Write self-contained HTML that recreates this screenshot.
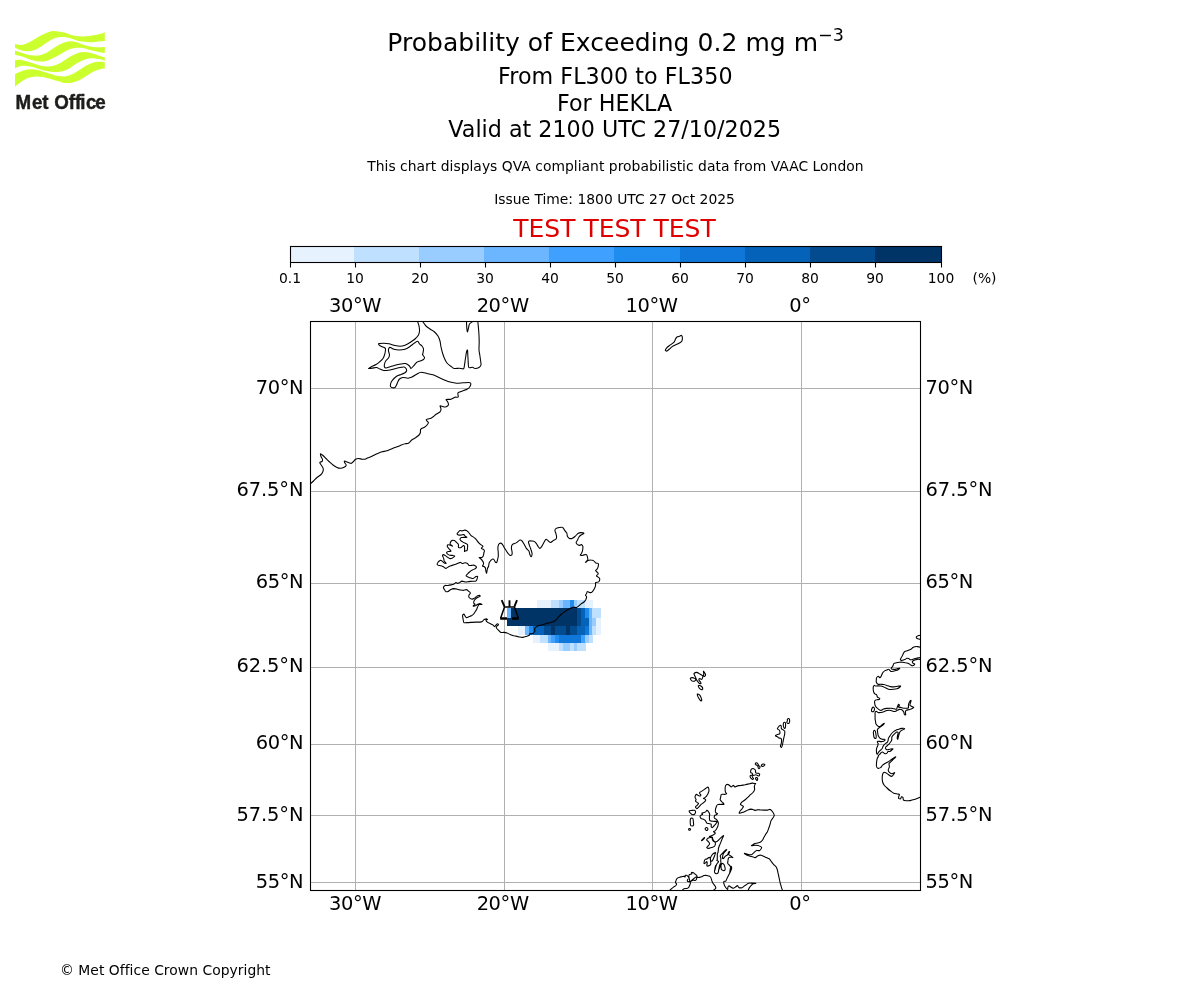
<!DOCTYPE html>
<html lang="en"><head><meta charset="utf-8"><title>Probability of Exceeding 0.2 mg m-3 - HEKLA</title>
<style>html,body{margin:0;padding:0;background:#fff}body{width:1200px;height:1000px;overflow:hidden}svg{display:block}text{font-family:"DejaVu Sans", "Liberation Sans", sans-serif;fill:#000}</style>
</head><body>
<svg width="1200" height="1000" viewBox="0 0 1200 1000">
<rect width="1200" height="1000" fill="#fff"/>
<g fill="#ccff2e">
<path d="M15.0,44.1C16.1,44.2 19.2,45.2 21.3,45.0C23.4,44.8 25.4,43.8 27.5,42.9C29.6,42.0 31.6,40.9 33.7,39.8C35.8,38.7 37.8,37.2 39.9,36.1C42.0,35.0 44.0,33.8 46.1,33.0C48.2,32.2 50.3,31.4 52.3,31.1C54.3,30.8 56.3,31.1 58.3,31.4C60.3,31.6 62.2,32.0 64.2,32.6C66.2,33.2 68.3,34.2 70.4,34.8C72.5,35.4 74.5,35.8 76.6,36.1C78.7,36.4 80.7,36.4 82.8,36.4C84.9,36.4 86.9,36.3 89.0,36.1C91.1,35.9 93.1,35.5 95.2,35.1C97.3,34.7 99.8,34.1 101.4,33.6C103.0,33.1 104.2,32.5 104.8,32.3L104.8,41.0C104.2,41.0 103.0,41.1 101.4,41.3C99.8,41.4 97.3,41.7 95.2,41.9C93.1,42.1 91.1,42.3 89.0,42.3C86.9,42.2 84.9,41.9 82.8,41.6C80.7,41.3 78.7,41.0 76.6,40.4C74.5,39.8 72.5,38.8 70.4,38.2C68.3,37.6 66.2,37.1 64.2,37.0C62.2,36.9 60.3,36.9 58.3,37.3C56.3,37.7 54.3,38.3 52.3,39.2C50.3,40.1 48.2,41.6 46.1,42.9C44.0,44.2 42.0,46.0 39.9,47.2C37.8,48.4 35.8,49.6 33.7,50.3C31.6,51.0 29.6,51.2 27.5,51.2C25.4,51.2 23.4,50.9 21.3,50.3C19.2,49.7 16.1,48.2 15.0,47.8Z"/>
<path d="M15.0,50.6C16.1,51.0 19.2,52.1 21.3,52.8C23.4,53.5 25.4,54.2 27.5,54.7C29.6,55.2 31.6,55.5 33.7,55.6C35.8,55.7 37.8,55.7 39.9,55.3C42.0,54.9 44.0,54.1 46.1,53.1C48.2,52.1 50.3,50.4 52.3,49.1C54.3,47.8 56.3,46.4 58.3,45.3C60.3,44.2 62.2,43.3 64.2,42.6C66.2,41.9 68.3,41.3 70.4,41.3C72.5,41.2 74.5,41.8 76.6,42.3C78.7,42.8 80.7,43.7 82.8,44.4C84.9,45.1 86.9,45.8 89.0,46.3C91.1,46.8 93.1,47.0 95.2,47.2C97.3,47.4 99.8,47.3 101.4,47.3C103.0,47.3 104.2,47.1 104.8,47.1L104.8,52.8C104.2,52.8 103.0,52.8 101.4,52.5C99.8,52.2 97.3,51.7 95.2,51.2C93.1,50.7 91.1,50.2 89.0,49.7C86.9,49.2 84.9,48.4 82.8,48.1C80.7,47.8 78.7,47.6 76.6,47.8C74.5,48.0 72.5,48.4 70.4,49.1C68.3,49.8 66.2,50.9 64.2,51.9C62.2,52.9 60.3,54.3 58.3,55.4C56.3,56.5 54.3,57.5 52.3,58.4C50.3,59.3 48.2,60.4 46.1,60.9C44.0,61.4 42.0,61.6 39.9,61.5C37.8,61.4 35.8,61.0 33.7,60.5C31.6,60.0 29.6,59.1 27.5,58.4C25.4,57.7 23.4,56.8 21.3,56.2C19.2,55.6 16.1,55.0 15.0,54.7Z"/>
<path d="M15.0,60.2C16.1,60.2 19.2,59.7 21.3,59.9C23.4,60.1 25.4,60.9 27.5,61.5C29.6,62.1 31.6,62.9 33.7,63.6C35.8,64.3 37.8,65.0 39.9,65.5C42.0,66.0 44.0,66.3 46.1,66.4C48.2,66.5 50.3,66.5 52.3,66.1C54.3,65.7 56.3,65.0 58.3,64.1C60.3,63.2 62.2,61.8 64.2,60.5C66.2,59.2 68.3,57.7 70.4,56.5C72.5,55.3 74.5,54.2 76.6,53.4C78.7,52.6 80.7,52.0 82.8,51.9C84.9,51.8 86.9,52.1 89.0,52.5C91.1,52.9 93.1,53.6 95.2,54.3C97.3,55.0 99.8,56.0 101.4,56.5C103.0,57.0 104.2,57.2 104.8,57.4L104.8,60.9C104.2,60.7 103.0,60.0 101.4,59.6C99.8,59.2 97.3,58.6 95.2,58.4C93.1,58.2 91.1,58.1 89.0,58.4C86.9,58.7 84.9,59.3 82.8,60.2C80.7,61.1 78.7,62.4 76.6,63.6C74.5,64.8 72.5,66.5 70.4,67.7C68.3,68.9 66.0,70.1 64.2,70.8C62.4,71.5 61.0,71.6 59.5,71.8C58.0,72.0 57.1,72.1 55.4,72.0C53.7,71.9 51.3,71.7 49.2,71.4C47.1,71.1 45.1,70.7 43.0,70.2C40.9,69.7 38.9,68.9 36.8,68.3C34.7,67.7 32.7,66.8 30.6,66.4C28.5,66.0 26.5,65.8 24.4,65.8C22.3,65.8 19.8,66.2 18.2,66.7C16.6,67.2 15.5,68.3 15.0,68.6Z"/>
<path d="M15.0,74.5C15.5,74.2 16.6,73.3 18.2,72.6C19.8,71.9 22.3,70.8 24.4,70.2C26.5,69.6 28.5,69.3 30.6,69.2C32.7,69.1 34.7,69.4 36.8,69.8C38.9,70.2 40.9,70.8 43.0,71.4C45.1,72.0 47.1,72.9 49.2,73.6C51.3,74.3 53.7,75.0 55.4,75.4C57.1,75.8 58.0,75.8 59.5,76.0C61.0,76.2 62.4,76.6 64.2,76.4C66.0,76.2 68.3,75.9 70.4,75.1C72.5,74.3 74.5,72.9 76.6,71.7C78.7,70.5 80.7,68.9 82.8,67.7C84.9,66.5 86.9,65.2 89.0,64.3C91.1,63.4 93.1,62.5 95.2,62.1C97.3,61.7 99.8,61.8 101.4,61.8C103.0,61.8 104.2,62.3 104.8,62.4L104.8,68.6C104.2,68.6 103.0,68.5 101.4,68.9C99.8,69.3 97.3,69.9 95.2,70.8C93.1,71.7 91.1,73.0 89.0,74.2C86.9,75.4 84.9,77.0 82.8,78.2C80.7,79.4 78.7,80.5 76.6,81.3C74.5,82.1 72.5,82.6 70.4,82.9C68.3,83.2 66.0,83.1 64.2,82.9C62.4,82.7 61.0,81.9 59.5,81.5C58.0,81.1 57.1,80.9 55.4,80.4C53.7,79.9 51.3,79.1 49.2,78.5C47.1,77.9 45.1,77.3 43.0,77.0C40.9,76.7 38.9,76.4 36.8,76.4C34.7,76.5 32.7,76.7 30.6,77.3C28.5,77.9 26.5,78.7 24.4,79.8C22.3,80.9 19.8,82.9 18.2,84.1C16.6,85.3 15.5,86.4 15.0,86.9Z"/>
</g>
<text transform="scale(0.9372,1)" x="16.49 34.14 45.11 51.75 57.92 73.46 80.12 85.67 91.65 101.54" y="108.8" font-size="20" font-weight="bold" style="font-family:'Liberation Sans',sans-serif;fill:#1d1d1b;stroke:#1d1d1b;stroke-width:0.45px">Met Office</text>
<g text-anchor="middle">
<text x="615.6" y="51" font-size="25" letter-spacing="0.04">Probability of Exceeding 0.2 mg m<tspan font-size="17.5" dy="-10.3">−3</tspan></text>
<text x="615.3" y="84" letter-spacing="0.05" font-size="22.22">From FL300 to FL350</text>
<text x="614.6" y="110.5" font-size="22.22">For HEKLA</text>
<text x="614.7" y="137" font-size="22.22">Valid at 2100 UTC 27/10/2025</text>
<text x="615.4" y="171" font-size="13.89" letter-spacing="0.022">This chart displays QVA compliant probabilistic data from VAAC London</text>
<text x="614.5" y="204" font-size="13.89">Issue Time: 1800 UTC 27 Oct 2025</text>
<text x="614.5" y="237" font-size="25" style="fill:#e00000">TEST TEST TEST</text>
</g>
<g shape-rendering="crispEdges">
<rect x="290" y="246.5" width="64" height="16.0" fill="#e6f3ff"/>
<rect x="354" y="246.5" width="65" height="16.0" fill="#bfe0ff"/>
<rect x="419" y="246.5" width="65" height="16.0" fill="#99ccff"/>
<rect x="484" y="246.5" width="65" height="16.0" fill="#6cb6ff"/>
<rect x="549" y="246.5" width="65" height="16.0" fill="#3fa0ff"/>
<rect x="614" y="246.5" width="66" height="16.0" fill="#1f8cf0"/>
<rect x="680" y="246.5" width="65" height="16.0" fill="#0f77d9"/>
<rect x="745" y="246.5" width="65" height="16.0" fill="#0462b8"/>
<rect x="810" y="246.5" width="65" height="16.0" fill="#034b8f"/>
<rect x="875" y="246.5" width="67" height="16.0" fill="#003366"/>
</g>
<rect x="290.5" y="246.5" width="651.0" height="16.0" fill="none" stroke="#000" stroke-width="1.1"/>
<g stroke="#000" stroke-width="1.1">
<line x1="290.50" y1="262.5" x2="290.50" y2="267.5"/>
<line x1="355.50" y1="262.5" x2="355.50" y2="267.5"/>
<line x1="420.50" y1="262.5" x2="420.50" y2="267.5"/>
<line x1="485.50" y1="262.5" x2="485.50" y2="267.5"/>
<line x1="550.50" y1="262.5" x2="550.50" y2="267.5"/>
<line x1="615.50" y1="262.5" x2="615.50" y2="267.5"/>
<line x1="680.50" y1="262.5" x2="680.50" y2="267.5"/>
<line x1="745.50" y1="262.5" x2="745.50" y2="267.5"/>
<line x1="810.50" y1="262.5" x2="810.50" y2="267.5"/>
<line x1="875.50" y1="262.5" x2="875.50" y2="267.5"/>
<line x1="941.50" y1="262.5" x2="941.50" y2="267.5"/>
</g>
<g text-anchor="middle" font-size="13.89">
<text x="290.00" y="283">0.1</text>
<text x="355.00" y="283">10</text>
<text x="420.00" y="283">20</text>
<text x="485.00" y="283">30</text>
<text x="550.00" y="283">40</text>
<text x="615.00" y="283">50</text>
<text x="680.00" y="283">60</text>
<text x="745.00" y="283">70</text>
<text x="810.00" y="283">80</text>
<text x="875.00" y="283">90</text>
<text x="941.00" y="283">100</text>
<text x="984.5" y="283">(%)</text>
</g>
<defs><clipPath id="mapclip"><rect x="310.5" y="321.5" width="610.0" height="569.0"/></clipPath></defs>
<g clip-path="url(#mapclip)">
<g shape-rendering="crispEdges">
<rect x="537" y="600" width="14" height="8" fill="#e6f3ff"/>
<rect x="551" y="600" width="8" height="8" fill="#bfe0ff"/>
<rect x="559" y="600" width="4" height="8" fill="#99ccff"/>
<rect x="563" y="600" width="7" height="8" fill="#6cb6ff"/>
<rect x="570" y="600" width="4" height="8" fill="#1f8cf0"/>
<rect x="574" y="600" width="3" height="8" fill="#99ccff"/>
<rect x="577" y="600" width="8" height="8" fill="#bfe0ff"/>
<rect x="585" y="600" width="8" height="8" fill="#e6f3ff"/>
<rect x="507" y="608" width="4" height="10" fill="#6cb6ff"/>
<rect x="511" y="608" width="66" height="10" fill="#003366"/>
<rect x="577" y="608" width="4" height="10" fill="#034b8f"/>
<rect x="581" y="608" width="4" height="10" fill="#0462b8"/>
<rect x="585" y="608" width="4" height="10" fill="#1f8cf0"/>
<rect x="589" y="608" width="3" height="10" fill="#6cb6ff"/>
<rect x="592" y="608" width="9" height="10" fill="#bfe0ff"/>
<rect x="507" y="618" width="70" height="8" fill="#003366"/>
<rect x="577" y="618" width="4" height="8" fill="#034b8f"/>
<rect x="581" y="618" width="8" height="8" fill="#0462b8"/>
<rect x="589" y="618" width="3" height="8" fill="#6cb6ff"/>
<rect x="592" y="618" width="4" height="8" fill="#99ccff"/>
<rect x="596" y="618" width="5" height="8" fill="#e6f3ff"/>
<rect x="518" y="626" width="7" height="9" fill="#e6f3ff"/>
<rect x="525" y="626" width="4" height="9" fill="#6cb6ff"/>
<rect x="529" y="626" width="4" height="9" fill="#1f8cf0"/>
<rect x="533" y="626" width="11" height="9" fill="#0462b8"/>
<rect x="544" y="626" width="7" height="9" fill="#034b8f"/>
<rect x="551" y="626" width="4" height="9" fill="#003366"/>
<rect x="555" y="626" width="11" height="9" fill="#034b8f"/>
<rect x="566" y="626" width="4" height="9" fill="#003366"/>
<rect x="570" y="626" width="7" height="9" fill="#034b8f"/>
<rect x="577" y="626" width="8" height="9" fill="#0462b8"/>
<rect x="585" y="626" width="4" height="9" fill="#0f77d9"/>
<rect x="589" y="626" width="3" height="9" fill="#6cb6ff"/>
<rect x="592" y="626" width="4" height="9" fill="#bfe0ff"/>
<rect x="596" y="626" width="5" height="9" fill="#e6f3ff"/>
<rect x="533" y="635" width="7" height="8" fill="#e6f3ff"/>
<rect x="540" y="635" width="8" height="8" fill="#bfe0ff"/>
<rect x="548" y="635" width="3" height="8" fill="#6cb6ff"/>
<rect x="551" y="635" width="4" height="8" fill="#3fa0ff"/>
<rect x="555" y="635" width="4" height="8" fill="#1f8cf0"/>
<rect x="559" y="635" width="22" height="8" fill="#0f77d9"/>
<rect x="581" y="635" width="4" height="8" fill="#3fa0ff"/>
<rect x="585" y="635" width="4" height="8" fill="#99ccff"/>
<rect x="589" y="635" width="4" height="8" fill="#bfe0ff"/>
<rect x="548" y="643" width="11" height="8" fill="#e6f3ff"/>
<rect x="559" y="643" width="4" height="8" fill="#bfe0ff"/>
<rect x="563" y="643" width="7" height="8" fill="#99ccff"/>
<rect x="570" y="643" width="4" height="8" fill="#bfe0ff"/>
<rect x="574" y="643" width="3" height="8" fill="#99ccff"/>
<rect x="577" y="643" width="9" height="8" fill="#bfe0ff"/>
</g>
<g stroke="#b0b0b0" stroke-width="1.1" shape-rendering="crispEdges">
<line x1="355.5" y1="321.5" x2="355.5" y2="890.5"/>
<line x1="504.5" y1="321.5" x2="504.5" y2="890.5"/>
<line x1="652.5" y1="321.5" x2="652.5" y2="890.5"/>
<line x1="801.5" y1="321.5" x2="801.5" y2="890.5"/>
<line x1="310.5" y1="388.5" x2="920.5" y2="388.5"/>
<line x1="310.5" y1="491.5" x2="920.5" y2="491.5"/>
<line x1="310.5" y1="583.5" x2="920.5" y2="583.5"/>
<line x1="310.5" y1="667.5" x2="920.5" y2="667.5"/>
<line x1="310.5" y1="744.5" x2="920.5" y2="744.5"/>
<line x1="310.5" y1="815.5" x2="920.5" y2="815.5"/>
<line x1="310.5" y1="882.5" x2="920.5" y2="882.5"/>
</g>
<path fill="none" stroke="#000" stroke-width="1.08" stroke-linejoin="round" stroke-linecap="round" d="M417.5,321.2C417.7,321.9 418.7,324.6 419.0,326.0C419.3,327.4 419.6,329.7 419.5,331.0C419.4,332.3 419.1,333.9 418.5,335.0C417.9,336.1 416.2,337.9 415.0,339.0C413.8,340.1 411.4,341.6 410.0,342.5C408.6,343.4 406.4,344.7 405.0,345.2C403.6,345.7 401.4,346.2 400.0,346.2C398.6,346.2 396.5,345.8 395.0,345.5C393.5,345.2 390.5,344.1 389.0,343.8C387.5,343.5 385.4,343.2 384.0,343.2C382.6,343.2 379.7,343.3 379.0,343.5C378.3,343.7 378.6,344.4 379.0,344.8C379.4,345.2 380.7,346.1 381.5,346.5C382.3,346.9 384.4,347.5 385.0,348.0C385.6,348.5 385.6,349.0 385.5,350.0C385.4,351.0 384.9,353.8 384.5,355.0C384.1,356.2 383.6,357.6 383.0,358.5C382.4,359.4 381.0,360.7 380.0,361.5C379.0,362.3 377.3,363.7 376.0,364.5C374.7,365.3 372.1,366.4 371.0,367.0C369.9,367.6 368.4,368.3 368.5,368.5C368.6,368.7 370.9,368.3 372.0,368.2C373.1,368.1 375.4,367.4 376.5,367.5C377.6,367.6 378.9,368.6 380.0,369.0C381.1,369.4 382.6,370.4 384.0,370.5C385.4,370.6 388.5,370.2 390.0,370.0C391.5,369.8 393.6,369.2 395.0,368.8C396.4,368.4 398.7,367.8 400.0,367.5C401.3,367.2 403.2,366.9 404.0,367.0C404.8,367.1 405.6,367.9 406.0,368.5C406.4,369.1 406.7,370.4 406.5,371.0C406.3,371.6 405.3,372.5 404.5,373.0C403.7,373.5 402.1,374.1 401.0,374.5C399.9,374.9 398.0,375.4 397.0,376.0C396.0,376.6 394.8,377.7 394.0,378.5C393.2,379.3 392.0,380.7 391.5,381.5C391.0,382.3 390.6,383.8 390.5,384.5C390.4,385.2 390.2,386.0 390.5,386.5C390.8,387.0 391.9,387.7 392.5,387.8C393.1,387.9 394.4,387.9 395.0,387.5C395.6,387.1 396.1,385.8 396.5,385.0C396.9,384.2 397.6,382.3 398.0,381.5C398.4,380.7 398.8,379.6 399.5,379.0C400.2,378.4 401.8,377.6 403.0,377.5C404.2,377.4 406.7,378.3 408.0,378.2C409.3,378.1 410.7,377.6 412.0,377.0C413.3,376.4 415.7,374.7 417.0,374.0C418.3,373.3 419.6,372.3 421.0,372.2C422.4,372.1 425.3,373.1 427.0,373.5C428.7,373.9 431.3,374.2 433.0,374.8C434.7,375.4 437.3,376.7 439.0,377.5C440.7,378.3 443.5,379.6 445.0,380.2C446.5,380.8 448.4,381.6 450.0,382.0C451.6,382.4 454.7,383.1 456.5,383.2C458.3,383.3 461.2,382.9 463.0,382.8C464.8,382.7 467.9,382.4 469.0,382.5C470.1,382.6 470.7,382.9 470.8,383.5C470.9,384.1 470.5,385.7 470.0,386.5C469.5,387.3 468.6,388.4 467.5,389.0C466.4,389.6 463.8,390.5 462.5,391.0C461.2,391.5 458.6,392.0 458.0,392.8C457.4,393.6 458.7,396.4 458.2,397.0C457.8,397.6 456.0,396.9 455.0,397.2C454.0,397.6 452.2,398.9 451.0,399.2C449.8,399.6 446.7,399.2 446.2,399.5C445.8,399.8 447.2,400.8 447.5,401.5C447.8,402.2 448.5,403.6 448.5,404.2C448.5,404.9 448.0,405.6 447.5,406.0C447.0,406.4 445.8,407.0 445.0,407.0C444.2,407.0 442.7,406.4 442.0,406.2C441.3,406.1 440.2,405.5 440.0,405.8C439.8,406.0 440.6,407.4 440.8,408.0C440.9,408.6 441.0,409.4 440.9,410.0C440.8,410.6 440.4,411.4 439.8,412.0C439.1,412.6 437.4,413.4 436.5,414.0C435.6,414.6 434.3,415.9 433.5,416.5C432.7,417.1 431.8,417.9 431.0,418.2C430.2,418.6 428.7,418.8 428.0,419.0C427.3,419.2 426.4,419.4 426.2,419.8C426.1,420.1 426.9,420.8 427.2,421.2C427.6,421.7 428.4,422.2 428.4,422.8C428.4,423.3 427.5,424.4 427.0,425.0C426.5,425.6 425.3,426.8 424.5,427.2C423.7,427.7 422.1,428.1 421.5,428.5C420.9,428.9 420.7,429.2 420.5,429.8C420.3,430.3 420.6,431.8 420.4,432.5C420.2,433.2 419.7,434.3 419.0,435.0C418.3,435.7 416.5,437.1 415.5,437.8C414.5,438.4 413.0,439.0 412.0,439.8C411.0,440.5 409.5,442.7 408.5,443.2C407.5,443.8 405.9,443.5 405.0,443.8C404.1,444.0 403.0,444.4 402.0,444.8C401.0,445.1 399.3,446.0 398.0,446.5C396.7,447.0 394.5,447.6 393.0,448.2C391.5,448.8 388.5,450.3 387.0,450.8C385.5,451.3 383.4,451.4 382.0,451.8C380.6,452.2 378.4,453.2 377.0,453.8C375.6,454.4 373.3,455.6 372.0,456.2C370.7,456.8 369.0,457.4 368.0,457.8C367.0,458.2 365.8,459.0 365.0,459.2C364.2,459.4 362.9,459.3 362.0,459.2C361.1,459.1 359.4,458.5 358.5,458.5C357.6,458.5 356.2,458.8 355.5,459.2C354.8,459.6 354.1,460.9 353.5,461.5C352.9,462.1 352.1,463.1 351.5,463.3C350.9,463.5 350.0,463.1 349.0,462.8C348.0,462.5 345.1,461.0 344.5,461.0C343.9,461.0 344.6,462.2 344.8,462.8C345.0,463.4 346.2,464.4 346.2,465.0C346.2,465.6 345.7,466.3 345.0,466.8C344.3,467.3 342.1,468.2 341.0,468.3C339.9,468.4 338.1,468.0 337.0,467.5C335.9,467.0 334.1,465.8 333.0,465.0C331.9,464.2 330.0,462.4 329.0,461.5C328.0,460.6 326.8,459.3 326.0,458.5C325.2,457.7 323.8,456.2 323.0,455.5C322.2,454.8 320.8,453.6 320.5,453.7C320.2,453.8 320.7,455.7 321.0,456.5C321.3,457.3 322.4,458.8 322.5,459.5C322.6,460.2 322.4,461.1 322.0,461.5C321.6,461.9 319.9,461.9 319.8,462.5C319.7,463.1 321.0,464.6 321.5,465.5C322.0,466.4 323.2,468.0 323.3,469.0C323.4,470.0 322.9,471.7 322.5,472.5C322.1,473.3 321.3,474.3 320.5,475.0C319.7,475.7 318.0,476.7 317.0,477.5C316.0,478.3 314.5,480.1 313.5,481.0C312.5,481.9 310.5,483.6 310.0,484.0M417.7,341.2C418.4,341.3 418.9,343.3 419.5,344.0C420.1,344.7 421.4,345.3 422.0,346.0C422.6,346.7 423.4,348.0 423.5,349.0C423.6,350.0 423.1,352.2 423.0,353.0C422.9,353.8 422.3,353.9 422.5,354.5C422.7,355.1 424.4,356.8 424.5,357.5C424.6,358.2 424.1,359.0 423.5,359.5C422.9,360.0 421.0,360.6 420.0,361.0C419.0,361.4 417.3,361.9 416.5,362.5C415.7,363.1 414.8,364.7 414.0,365.5C413.2,366.3 411.6,368.4 411.0,368.5C410.4,368.6 410.3,366.7 409.5,366.0C408.7,365.3 406.7,363.8 405.5,363.5C404.3,363.2 402.5,363.8 401.0,364.0C399.5,364.2 396.5,364.8 395.0,365.2C393.5,365.6 391.3,366.4 390.0,366.8C388.7,367.2 386.8,368.0 386.0,368.0C385.2,368.0 384.7,367.6 384.5,367.0C384.3,366.4 384.3,364.9 384.5,364.0C384.7,363.1 385.4,361.3 386.0,360.5C386.6,359.7 388.0,358.8 388.5,358.0C389.0,357.2 389.5,356.0 389.5,355.0C389.5,354.0 388.6,352.0 388.5,351.0C388.4,350.0 388.7,348.5 389.0,348.0C389.3,347.5 389.8,347.3 390.5,347.5C391.2,347.7 392.8,348.8 394.0,349.2C395.2,349.6 397.5,350.0 399.0,350.0C400.5,350.0 403.5,349.7 405.0,349.2C406.5,348.7 408.7,347.4 410.0,346.5C411.3,345.6 413.4,343.7 414.5,343.0C415.6,342.3 417.0,341.1 417.7,341.2ZM422.5,321.2C423.0,321.9 424.9,324.9 426.0,326.0C427.1,327.1 428.9,328.2 430.0,329.0C431.1,329.8 432.9,330.5 434.0,331.5C435.1,332.5 437.2,334.7 438.0,336.0C438.8,337.3 439.6,339.5 440.0,341.0C440.4,342.5 440.6,345.3 441.0,347.0C441.4,348.7 442.0,351.4 442.5,353.0C443.0,354.6 443.9,357.1 444.5,358.5C445.1,359.9 446.2,361.9 447.0,363.0C447.8,364.1 449.5,365.2 450.5,366.0C451.5,366.8 452.8,368.2 454.0,368.5C455.2,368.8 457.7,368.2 459.0,368.2C460.3,368.2 462.7,369.2 463.5,368.8C464.3,368.4 464.2,366.5 464.5,365.0C464.8,363.5 465.2,359.8 465.5,358.0C465.8,356.2 466.2,353.1 466.5,352.0C466.8,350.9 467.3,349.6 467.5,350.0C467.7,350.4 467.7,353.3 467.8,355.0C467.9,356.7 468.1,360.2 468.2,362.0C468.3,363.8 468.2,366.8 468.8,367.5C469.4,368.2 471.6,367.1 472.5,367.2C473.4,367.3 474.1,368.5 475.0,368.5C475.9,368.5 478.2,368.0 479.0,367.5C479.8,367.0 480.8,366.1 481.0,365.0C481.2,363.9 480.7,361.4 480.5,360.0C480.3,358.6 480.0,356.4 479.8,355.0C479.6,353.6 479.1,351.8 479.0,350.0C478.9,348.2 479.2,344.5 479.2,342.0C479.2,339.5 479.0,334.9 478.8,332.0C478.6,329.1 477.9,322.7 477.8,321.2M466.5,321.2C466.5,322.2 466.7,326.5 466.8,328.0C466.9,329.5 467.3,332.0 467.5,332.0C467.7,332.0 468.2,329.1 468.5,328.0C468.8,326.9 468.9,324.9 469.5,324.0C470.1,323.1 472.1,321.9 472.5,321.5M681.5,335.4C681.9,335.6 682.4,337.4 682.4,338.2C682.4,339.0 682.2,340.5 681.8,341.2C681.4,341.9 680.2,342.5 679.4,343.0C678.6,343.5 676.8,344.3 675.8,344.8C674.8,345.3 673.1,346.0 672.2,346.6C671.3,347.2 670.0,348.7 669.2,349.3C668.4,349.9 667.3,351.0 666.8,351.1C666.3,351.2 665.3,350.6 665.3,350.2C665.3,349.8 666.0,348.7 666.5,348.1C667.0,347.5 668.4,346.3 669.2,345.7C670.0,345.1 671.5,344.1 672.2,343.6C672.9,343.1 673.8,342.4 674.3,341.8C674.8,341.2 675.1,339.8 675.5,339.1C675.9,338.4 676.5,337.4 677.0,337.0C677.5,336.6 678.8,336.5 679.4,336.3C680.0,336.0 681.1,335.1 681.5,335.4ZM519.9,540.1C520.6,539.8 521.2,540.1 521.8,540.6C522.3,541.2 523.4,543.0 524.0,544.0C524.6,545.0 525.6,547.1 526.2,548.1C526.9,549.1 528.4,550.2 528.9,551.1C529.4,552.1 529.7,554.1 530.0,554.9C530.3,555.7 530.8,556.9 531.1,556.8C531.4,556.6 532.1,554.7 532.1,553.8C532.1,552.8 531.5,551.1 531.1,550.0C530.8,548.9 530.0,546.9 529.6,545.9C529.3,544.8 528.6,543.2 528.5,542.5C528.4,541.8 528.8,541.2 529.2,541.0C529.7,540.8 531.1,540.9 531.9,541.0C532.6,541.1 533.9,541.2 534.5,541.6C535.1,542.0 535.9,542.9 536.4,543.6C536.9,544.3 537.8,546.0 538.2,546.6C538.7,547.3 539.3,548.4 539.8,548.4C540.2,548.4 541.1,547.3 541.6,546.6C542.1,545.9 543.0,544.2 543.5,543.2C544.0,542.3 545.0,540.4 545.4,539.9C545.8,539.3 546.1,539.2 546.5,539.4C546.9,539.5 547.8,540.6 548.4,541.0C549.0,541.4 549.9,542.6 550.6,542.5C551.3,542.4 552.5,541.1 553.2,540.6C554.0,540.2 555.4,539.6 555.9,539.1C556.3,538.6 556.6,537.7 556.6,536.9C556.6,536.1 556.1,534.4 555.9,533.5C555.6,532.6 554.9,531.2 554.9,530.5C554.9,529.8 555.3,529.0 555.9,528.6C556.5,528.2 558.3,527.7 559.2,527.5C560.2,527.3 561.9,527.0 562.6,527.4C563.4,527.7 563.9,529.3 564.5,530.1C565.1,530.9 566.3,532.2 566.8,533.1C567.2,534.0 567.1,535.8 567.5,536.5C567.9,537.2 568.7,538.1 569.4,538.4C570.0,538.6 571.2,538.6 572.0,538.4C572.8,538.1 574.2,537.2 575.0,536.5C575.8,535.8 577.2,534.0 578.0,533.5C578.8,533.0 579.8,532.6 580.6,532.6C581.5,532.6 583.9,533.0 584.0,533.4C584.1,533.7 581.7,534.5 581.0,535.0C580.3,535.5 579.2,536.6 578.8,537.2C578.3,537.9 578.0,539.1 577.6,539.9C577.3,540.6 576.2,541.9 576.1,542.5C576.1,543.1 576.8,544.0 577.2,544.4C577.7,544.8 578.9,545.3 579.5,545.4C580.1,545.4 580.9,544.4 581.4,544.6C581.8,544.8 582.7,545.8 582.9,546.6C583.0,547.5 582.7,549.8 582.5,550.8C582.3,551.7 581.7,552.7 581.4,553.4C581.1,554.0 580.0,555.0 580.2,555.2C580.5,555.5 582.0,555.4 582.9,555.2C583.7,555.1 585.6,554.3 586.2,554.5C586.9,554.7 587.2,556.0 587.4,556.8C587.6,557.5 588.0,559.0 587.8,559.8C587.5,560.5 585.4,562.3 585.5,562.4C585.6,562.5 587.4,560.8 588.1,560.5C588.9,560.2 590.0,559.9 590.8,560.0C591.5,560.0 593.0,560.4 593.8,560.9C594.5,561.3 595.4,562.8 596.0,563.1C596.6,563.5 597.9,563.0 598.2,563.5C598.6,564.0 598.4,565.7 598.2,566.5C598.1,567.3 597.5,568.5 597.1,569.1C596.8,569.7 595.6,570.2 595.6,570.6C595.7,571.1 597.1,572.0 597.5,572.5C597.9,573.0 598.4,573.5 598.2,574.0C598.1,574.5 596.3,575.4 596.4,575.9C596.4,576.3 598.2,576.9 598.6,577.4C599.1,577.8 599.8,578.6 599.8,579.2C599.8,579.9 599.2,581.4 598.6,581.9C598.0,582.3 596.0,582.2 595.6,582.6C595.2,583.1 595.8,584.3 595.6,585.1C595.5,585.9 595.0,587.6 594.5,588.5C594.0,589.4 592.9,591.3 592.2,591.9C591.6,592.5 590.7,592.7 590.0,592.6C589.3,592.6 587.8,591.4 587.4,591.5C586.9,591.6 586.9,592.9 586.6,593.4C586.4,593.9 585.5,594.8 585.5,595.2C585.5,595.7 586.6,596.2 586.6,596.8C586.7,597.3 586.2,598.6 585.9,599.4C585.5,600.1 584.7,601.4 584.0,602.0C583.3,602.6 581.7,603.3 581.0,603.9C580.3,604.4 579.4,605.4 578.8,605.9C578.1,606.4 577.3,607.2 576.5,607.4C575.7,607.6 573.8,607.2 572.8,607.4C571.7,607.6 570.0,608.6 569.0,609.1C568.0,609.7 566.3,610.7 565.2,611.4C564.2,612.1 562.4,613.2 561.5,614.0C560.6,614.8 559.3,616.1 558.5,617.0C557.7,617.9 556.3,619.7 555.5,620.4C554.7,621.1 553.5,621.7 552.5,622.1C551.5,622.5 549.3,622.7 548.0,623.0C546.7,623.3 544.8,624.0 543.5,624.4C542.2,624.7 540.0,625.2 539.0,625.6C538.0,626.0 536.6,626.7 536.0,627.1C535.4,627.6 534.8,628.4 534.6,629.0C534.5,629.6 535.1,630.7 534.9,631.2C534.7,631.8 533.9,632.8 533.4,633.1C532.9,633.5 531.6,633.8 531.1,633.9C530.7,633.9 530.2,633.3 530.0,633.5C529.8,633.7 530.1,634.6 529.6,635.0C529.1,635.4 527.2,636.2 526.2,636.5C525.3,636.8 523.9,637.3 522.9,637.4C521.8,637.5 519.9,637.1 518.8,636.9C517.6,636.7 515.2,636.2 515.0,636.1C514.8,636.1 517.7,636.6 517.5,636.5C517.3,636.4 514.8,636.0 513.8,635.8C512.7,635.5 510.9,634.8 510.0,634.4C509.1,634.0 507.8,633.4 507.0,633.1C506.2,632.8 504.8,632.5 504.0,632.4C503.2,632.3 501.7,632.6 501.0,632.4C500.3,632.1 499.4,631.1 498.8,630.5C498.1,629.9 497.0,628.8 496.6,628.2C496.3,627.7 496.3,626.8 496.5,626.4C496.7,625.9 498.2,625.2 498.4,624.9C498.5,624.5 497.9,623.8 497.6,623.8C497.3,623.8 496.5,624.5 496.1,624.9C495.7,625.3 495.1,626.6 494.6,626.6C494.2,626.6 493.3,625.3 492.8,624.9C492.2,624.5 491.2,624.1 490.5,623.8C489.8,623.4 488.1,622.7 487.5,622.2C486.9,621.8 486.0,620.7 486.0,620.4C486.0,620.0 487.4,619.8 487.5,619.6C487.6,619.4 486.8,618.9 486.4,618.9C485.9,618.9 484.7,619.3 484.1,619.6C483.5,620.0 482.8,621.2 482.2,621.5C481.7,621.8 480.8,622.0 480.0,622.1C479.2,622.2 477.5,622.1 476.2,622.1C475.0,622.1 472.4,622.3 471.0,622.4C469.6,622.5 467.5,622.6 466.5,622.6C465.5,622.7 464.3,623.1 463.9,622.6C463.4,622.2 463.3,620.2 463.1,619.2C462.9,618.3 462.5,616.2 462.6,615.5C462.7,614.8 463.5,614.1 463.9,614.1C464.2,614.2 464.6,615.4 465.0,615.9C465.4,616.4 465.9,617.5 466.5,617.6C467.1,617.7 468.4,616.9 469.1,616.6C469.9,616.3 471.1,615.9 471.8,615.5C472.4,615.1 473.2,614.5 473.6,614.0C474.1,613.5 474.7,612.4 475.1,611.8C475.5,611.1 476.3,610.2 476.6,609.5C477.0,608.8 477.4,607.2 477.8,606.5C478.1,605.8 478.7,604.9 479.2,604.6C479.8,604.3 481.8,604.6 481.9,604.4C482.0,604.2 480.6,603.5 480.0,603.5C479.4,603.5 478.4,603.9 477.8,604.2C477.1,604.6 476.1,605.5 475.5,605.8C474.9,606.0 473.3,606.1 473.2,605.9C473.2,605.7 475.1,604.6 475.1,604.2C475.2,603.9 473.8,603.5 473.6,603.1C473.5,602.7 473.8,601.8 474.0,601.2C474.2,600.7 474.7,599.9 475.1,599.4C475.6,598.9 476.7,597.9 477.4,597.5C478.1,597.1 479.7,596.7 480.0,596.4C480.3,596.1 480.0,595.3 479.6,595.2C479.2,595.2 477.7,595.8 477.0,596.1C476.3,596.5 475.4,597.5 474.8,597.9C474.1,598.3 473.1,599.1 472.5,599.1C471.9,599.2 470.8,598.7 470.2,598.4C469.7,598.1 468.9,597.2 468.8,596.8C468.6,596.3 468.9,595.4 469.1,594.9C469.4,594.3 470.5,593.4 470.4,592.9C470.3,592.3 468.9,591.6 468.4,591.1C467.8,590.7 467.2,589.7 466.5,589.6C465.8,589.5 464.1,590.3 463.1,590.4C462.2,590.4 460.6,590.0 459.8,589.9C458.9,589.7 457.6,589.3 456.8,589.1C455.9,588.9 454.6,588.6 453.8,588.6C452.9,588.7 451.5,589.2 450.8,589.6C450.0,590.0 448.8,591.1 448.1,591.4C447.4,591.6 446.4,591.9 445.9,591.6C445.4,591.4 444.7,590.2 444.4,589.6C444.0,589.0 443.3,588.0 443.4,587.4C443.5,586.8 444.5,585.8 445.1,585.5C445.7,585.2 446.9,585.6 447.8,585.5C448.6,585.4 450.2,585.1 451.1,584.9C452.0,584.7 453.4,584.3 454.1,584.0C454.8,583.7 455.5,582.6 456.0,582.5C456.5,582.4 457.0,583.4 457.5,583.4C458.0,583.4 459.1,582.8 459.8,582.5C460.4,582.2 461.3,581.2 462.0,581.1C462.7,581.1 464.1,581.8 465.0,581.9C465.9,582.0 467.7,581.7 468.8,581.6C469.8,581.5 471.5,581.3 472.5,581.2C473.5,581.1 475.2,581.3 475.9,581.0C476.5,580.7 476.8,579.8 477.0,579.1C477.2,578.5 477.8,576.7 477.6,576.4C477.4,576.0 476.5,576.4 475.9,576.6C475.3,576.9 473.9,578.2 473.2,578.4C472.6,578.6 471.7,578.2 471.0,578.0C470.3,577.8 468.7,577.2 468.0,576.9C467.3,576.6 466.2,576.3 466.1,575.9C466.1,575.5 467.0,574.6 467.5,574.0C468.0,573.4 469.1,572.3 469.8,571.8C470.4,571.2 471.6,570.5 472.4,570.1C473.1,569.7 474.4,569.1 475.0,568.8C475.6,568.4 476.6,567.7 476.5,567.2C476.4,566.8 474.9,565.5 474.2,565.2C473.6,565.0 472.4,565.4 471.6,565.4C470.9,565.4 469.6,565.6 469.0,565.4C468.4,565.1 468.1,563.9 467.5,563.5C466.9,563.1 465.6,562.8 464.9,562.8C464.1,562.8 462.9,563.6 462.2,563.5C461.6,563.4 460.9,562.4 460.4,562.4C459.9,562.3 459.3,562.8 458.5,563.1C457.7,563.4 455.9,564.3 454.8,564.6C453.6,565.0 451.6,565.4 450.6,565.8C449.7,566.1 448.7,566.7 448.0,567.1C447.3,567.5 446.3,568.4 445.8,568.4C445.2,568.4 444.5,567.5 443.9,567.1C443.2,566.7 442.0,566.0 441.2,565.8C440.5,565.5 438.8,565.4 438.2,565.2C437.7,565.0 437.1,564.7 437.1,564.2C437.1,563.8 437.8,562.5 438.2,562.0C438.7,561.5 439.6,560.7 440.1,560.5C440.6,560.3 441.4,560.5 442.0,560.9C442.6,561.2 443.7,562.6 444.2,562.9C444.8,563.2 446.1,563.6 446.1,563.4C446.1,563.1 444.6,561.6 444.2,560.9C443.9,560.1 443.8,558.6 443.5,557.9C443.2,557.1 442.4,556.1 442.4,555.6C442.4,555.2 443.1,554.6 443.5,554.6C443.9,554.6 444.7,555.2 445.4,555.6C446.0,556.0 447.3,557.1 448.0,557.5C448.7,557.9 449.6,558.6 450.2,558.6C450.9,558.7 451.9,558.2 452.5,557.9C453.1,557.5 454.8,556.3 454.8,556.0C454.8,555.7 453.2,555.5 452.5,555.4C451.8,555.3 450.6,555.4 449.9,555.2C449.2,555.1 448.1,554.5 447.6,554.1C447.2,553.7 446.5,552.8 446.6,552.4C446.8,552.0 448.1,551.7 448.8,551.5C449.4,551.3 450.9,551.5 451.0,551.1C451.1,550.8 449.6,549.5 449.1,548.9C448.6,548.2 447.6,547.2 447.4,546.6C447.2,546.0 447.5,545.0 447.9,544.8C448.2,544.5 449.2,544.9 449.9,545.1C450.5,545.3 452.2,546.2 452.5,546.2C452.8,546.3 452.1,545.8 451.8,545.5C451.4,545.2 450.2,544.6 450.1,544.0C450.0,543.4 450.7,541.9 451.0,541.4C451.3,540.9 452.0,540.4 452.5,540.2C453.0,540.1 453.8,540.3 454.4,540.6C455.0,540.9 456.1,542.0 456.6,542.5C457.2,543.0 458.1,543.7 458.4,544.4C458.6,545.1 458.2,546.9 458.5,547.4C458.8,547.8 460.2,547.7 460.8,547.6C461.3,547.5 461.9,546.9 462.2,546.6C462.6,546.3 463.1,545.6 463.4,545.5C463.7,545.4 464.2,545.8 464.4,546.2C464.5,546.7 464.6,548.1 464.6,548.9C464.7,549.6 464.4,551.2 464.5,551.5C464.6,551.8 465.3,550.9 465.6,550.8C466.0,550.6 466.9,550.8 467.1,550.4C467.4,550.0 467.4,548.6 467.5,547.8C467.6,546.9 467.8,545.2 467.5,544.6C467.2,544.0 466.3,543.7 465.6,543.4C465.0,543.1 463.7,542.5 463.0,542.1C462.3,541.7 461.2,541.0 460.8,540.6C460.3,540.2 459.9,539.5 460.0,539.1C460.1,538.7 460.6,537.9 461.1,537.6C461.6,537.4 463.0,537.5 463.8,537.4C464.5,537.3 466.5,537.4 466.8,537.2C467.0,537.1 465.7,536.5 465.2,536.1C464.8,535.8 464.3,534.8 463.8,534.6C463.2,534.5 462.2,534.9 461.5,535.0C460.8,535.1 459.1,535.2 458.5,535.0C457.9,534.8 457.1,534.3 457.1,533.9C457.1,533.5 458.1,532.5 458.5,532.0C458.9,531.5 459.5,530.7 460.0,530.5C460.5,530.3 461.6,530.9 462.2,530.9C462.9,530.8 464.2,530.1 464.9,530.1C465.6,530.1 466.5,530.5 467.1,530.9C467.7,531.2 468.4,532.1 469.0,532.8C469.6,533.4 470.5,535.1 471.2,535.8C472.0,536.4 473.5,537.0 474.2,537.6C475.0,538.2 475.9,539.1 476.5,539.9C477.1,540.6 478.1,542.2 478.8,542.9C479.4,543.6 480.4,544.3 481.0,544.8C481.6,545.2 482.8,545.7 482.9,546.2C482.9,546.8 481.3,548.1 481.4,548.5C481.4,548.9 482.8,548.9 483.2,549.2C483.7,549.6 484.3,550.2 484.4,550.8C484.5,551.3 484.0,552.3 483.9,553.0C483.7,553.7 483.5,555.4 483.2,556.0C483.0,556.6 482.3,557.3 481.8,557.5C481.2,557.7 479.2,557.3 479.1,557.5C479.0,557.7 480.5,558.5 481.0,559.0C481.5,559.5 482.1,560.2 482.5,560.9C482.9,561.5 483.6,562.8 483.6,563.5C483.6,564.2 482.4,565.7 482.5,566.1C482.6,566.5 483.6,566.2 484.0,566.5C484.4,566.8 485.1,567.4 485.4,568.0C485.6,568.6 485.7,570.3 485.9,571.0C486.1,571.7 486.4,573.6 486.6,573.2C486.8,572.9 487.1,569.7 487.4,568.8C487.6,567.8 488.2,567.3 488.5,566.5C488.8,565.7 488.9,563.6 489.2,562.8C489.6,561.9 490.6,560.6 491.1,560.1C491.6,559.6 492.6,559.1 493.0,559.0C493.4,558.9 493.8,559.3 494.1,559.8C494.4,560.2 494.9,561.6 495.2,562.0C495.6,562.4 496.4,562.7 496.8,562.4C497.1,562.1 497.3,560.5 497.5,559.8C497.7,559.0 498.1,557.8 498.2,556.8C498.4,555.7 498.3,553.5 498.2,552.2C498.2,551.0 497.8,549.2 497.9,548.1C497.9,547.0 498.3,545.1 498.6,544.4C499.0,543.7 500.0,543.1 500.5,543.1C501.0,543.1 501.9,543.8 502.4,544.4C502.8,544.9 503.4,546.2 503.9,547.0C504.3,547.8 505.2,549.1 505.8,550.0C506.3,550.9 507.4,552.6 508.0,553.4C508.6,554.1 509.4,555.0 509.9,555.2C510.4,555.5 511.4,555.3 511.8,554.9C512.1,554.5 512.2,553.2 512.1,552.2C512.1,551.3 511.3,548.9 511.4,547.8C511.4,546.6 511.8,545.1 512.5,544.4C513.2,543.7 515.2,543.5 516.2,542.9C517.3,542.3 519.1,540.4 519.9,540.1ZM694.0,673.6C694.3,673.2 696.1,672.4 696.8,672.4C697.5,672.4 698.5,673.2 699.2,673.6C699.9,674.0 701.1,674.7 701.6,675.0C702.1,675.3 702.7,675.4 702.8,675.8C702.9,676.2 702.6,677.7 702.4,678.2C702.2,678.7 702.0,679.3 701.6,679.4C701.2,679.5 700.0,678.5 699.6,678.6C699.2,678.7 698.9,679.8 699.0,680.2C699.1,680.6 700.1,681.3 700.4,681.8C700.7,682.3 701.0,683.4 700.8,683.6C700.6,683.8 699.6,683.5 699.2,683.2C698.8,682.9 698.0,681.9 697.6,681.4C697.2,680.9 696.7,680.0 696.4,679.4C696.1,678.8 695.7,677.6 695.4,677.0C695.1,676.4 694.6,675.5 694.4,675.0C694.2,674.5 693.7,674.0 694.0,673.6ZM690.4,678.2C690.6,677.9 691.8,677.6 692.4,677.6C693.0,677.6 694.1,678.1 694.6,678.4C695.1,678.7 695.8,679.2 695.8,679.6C695.8,680.0 695.2,680.8 694.8,681.0C694.4,681.2 693.3,681.3 692.8,681.2C692.3,681.1 691.3,680.4 691.0,680.0C690.7,679.6 690.2,678.5 690.4,678.2ZM703.4,671.2C703.5,671.1 704.5,672.5 704.8,673.0C705.1,673.5 705.6,674.1 705.6,674.6C705.6,675.1 705.1,676.2 704.8,676.4C704.5,676.6 703.7,676.2 703.6,675.8C703.5,675.4 703.8,674.4 703.8,673.8C703.8,673.2 703.3,671.3 703.4,671.2ZM698.4,685.6C698.6,685.3 699.8,685.5 700.4,685.8C701.0,686.1 702.1,686.9 702.4,687.4C702.7,687.9 702.6,689.1 702.4,689.4C702.2,689.7 701.6,689.8 701.2,689.6C700.8,689.4 699.6,688.6 699.2,688.0C698.8,687.4 698.2,685.9 698.4,685.6ZM697.4,694.0C697.7,693.9 699.1,694.6 699.6,695.0C700.1,695.4 700.5,696.3 700.8,697.0C701.1,697.7 701.8,699.7 701.8,700.2C701.8,700.7 701.2,701.1 700.8,700.8C700.4,700.5 699.2,698.9 698.8,698.2C698.4,697.5 697.8,696.4 697.6,695.8C697.4,695.2 697.1,694.1 697.4,694.0ZM780.4,725.2C780.7,725.2 781.1,725.5 781.2,726.0C781.3,726.5 781.2,728.3 781.4,728.8C781.6,729.3 782.4,729.3 782.8,729.6C783.2,729.9 784.3,730.6 784.6,731.0C784.9,731.4 784.8,732.2 784.8,732.8C784.8,733.4 784.6,734.8 784.4,735.6C784.2,736.4 783.8,737.9 783.6,738.8C783.4,739.7 783.2,741.1 783.0,742.0C782.8,742.9 782.6,744.4 782.4,745.2C782.2,746.0 781.7,747.3 781.4,747.4C781.1,747.5 780.4,746.7 780.4,746.2C780.4,745.7 781.0,744.4 781.2,743.6C781.4,742.8 781.6,741.5 781.6,740.8C781.6,740.1 781.4,738.8 781.0,738.4C780.6,738.0 779.2,738.2 778.8,738.0C778.4,737.8 778.2,737.3 777.8,737.0C777.4,736.7 776.3,736.4 776.0,736.2C775.7,736.0 775.4,735.7 775.6,735.4C775.8,735.1 776.9,734.6 777.4,734.4C777.9,734.2 779.0,734.3 779.4,734.0C779.8,733.7 780.0,733.0 780.0,732.4C780.0,731.8 779.6,730.5 779.2,730.0C778.8,729.5 777.5,729.2 777.4,728.8C777.3,728.4 777.9,727.6 778.2,727.2C778.5,726.8 779.1,726.1 779.4,725.8C779.7,725.5 780.1,725.2 780.4,725.2ZM783.8,722.4C784.1,722.3 785.1,722.4 785.4,722.8C785.7,723.2 785.6,724.5 785.6,725.2C785.6,725.9 785.4,727.6 785.2,728.0C785.0,728.4 784.5,728.5 784.2,728.2C783.9,727.9 783.5,726.6 783.4,726.0C783.3,725.4 783.3,724.1 783.4,723.6C783.5,723.1 783.5,722.5 783.8,722.4ZM787.4,719.4C787.6,719.1 788.3,718.5 788.6,718.6C788.9,718.7 789.5,719.2 789.6,719.8C789.7,720.4 789.3,722.7 789.0,723.2C788.7,723.7 788.1,723.5 787.8,723.4C787.5,723.3 786.9,722.8 786.8,722.4C786.7,722.0 787.3,721.2 787.4,720.8C787.5,720.4 787.2,719.7 787.4,719.4ZM751.4,769.1C751.7,768.8 752.4,768.5 752.9,768.5C753.4,768.5 754.3,769.1 754.7,769.4C755.1,769.7 755.5,770.2 755.6,770.6C755.7,771.0 755.3,772.0 755.5,772.4C755.6,772.8 756.4,773.2 756.8,773.3C757.2,773.4 758.2,773.1 758.6,773.3C759.0,773.5 759.6,774.1 759.7,774.5C759.7,774.9 759.2,775.9 758.9,776.0C758.6,776.1 757.9,775.6 757.4,775.4C756.9,775.2 756.1,774.8 755.6,774.8C755.1,774.8 754.2,775.4 753.8,775.4C753.4,775.4 752.8,775.1 752.6,774.8C752.4,774.5 752.6,773.6 752.3,773.3C752.0,773.0 751.0,773.0 750.8,772.7C750.6,772.4 750.6,771.4 750.7,770.9C750.7,770.4 751.1,769.4 751.4,769.1ZM750.2,775.7C750.4,775.4 751.7,775.2 752.0,775.4C752.3,775.6 752.2,776.8 752.5,777.2C752.7,777.6 753.5,778.1 753.5,778.4C753.5,778.7 752.9,779.4 752.6,779.5C752.3,779.5 751.7,779.0 751.4,778.7C751.1,778.4 750.5,777.8 750.4,777.4C750.2,776.9 750.0,776.0 750.2,775.7ZM755.6,778.1C755.7,777.8 756.8,777.7 757.1,777.8C757.4,777.9 757.7,778.6 757.7,779.0C757.7,779.4 757.3,780.4 757.1,780.5C756.9,780.6 756.6,780.2 756.4,779.9C756.1,779.6 755.5,778.4 755.6,778.1ZM755.3,763.7C755.4,763.4 756.1,762.8 756.5,762.8C756.9,762.8 757.7,763.6 758.0,764.0C758.3,764.4 758.6,765.4 758.9,765.8C759.2,766.2 760.1,766.3 760.1,766.7C760.1,767.1 759.5,768.3 759.2,768.5C758.9,768.7 758.5,768.5 758.3,768.2C758.1,767.9 758.2,766.8 758.0,766.4C757.8,766.0 757.1,765.5 756.8,765.2C756.5,764.9 755.8,764.8 755.6,764.6C755.4,764.4 755.2,764.0 755.3,763.7ZM761.6,764.9C761.8,764.6 762.6,764.0 763.1,764.0C763.6,764.0 764.8,764.3 764.9,764.6C765.0,764.9 764.3,765.5 764.0,765.8C763.7,766.1 762.9,766.4 762.5,766.4C762.1,766.4 761.6,766.2 761.5,766.0C761.3,765.7 761.4,765.2 761.6,764.9ZM718.4,848.5C718.5,848.1 719.1,846.4 719.5,845.5C719.9,844.6 720.6,842.8 721.0,841.8C721.4,840.7 722.1,838.9 722.5,838.0C722.9,837.1 723.7,835.8 723.6,835.6C723.5,835.4 722.3,836.4 721.8,836.9C721.2,837.4 720.2,838.5 719.5,839.1C718.8,839.8 717.7,841.3 716.9,841.6C716.1,841.9 714.5,841.7 713.9,841.4C713.2,841.1 712.6,840.1 712.4,839.5C712.1,838.9 712.4,837.7 712.0,837.2C711.6,836.8 709.5,836.7 709.4,836.5C709.3,836.3 710.6,836.0 711.2,835.8C711.9,835.5 713.3,835.0 713.9,834.6C714.5,834.3 715.4,833.5 715.4,833.1C715.3,832.7 713.6,831.9 713.5,831.6C713.4,831.3 714.6,831.2 715.0,830.9C715.4,830.5 716.1,829.7 716.5,829.0C716.9,828.3 717.6,826.8 717.9,826.0C718.1,825.2 718.4,823.7 718.4,823.0C718.3,822.3 717.9,821.6 717.6,821.1C717.3,820.6 716.6,819.7 716.1,819.2C715.7,818.8 714.6,818.6 714.4,818.1C714.2,817.6 714.4,816.0 714.6,815.5C714.9,815.0 715.7,815.0 716.1,814.8C716.5,814.5 717.7,813.9 717.6,813.6C717.6,813.3 716.1,813.1 715.8,812.6C715.4,812.2 715.3,811.0 715.4,810.2C715.4,809.5 715.8,808.0 716.1,807.2C716.4,806.5 716.9,805.0 717.6,804.6C718.3,804.2 720.1,804.5 721.0,804.4C721.9,804.3 723.8,804.6 724.0,804.2C724.2,803.9 722.6,802.6 722.1,802.0C721.6,801.4 720.5,800.4 720.2,799.8C720.0,799.1 720.5,798.3 720.6,797.5C720.8,796.7 720.9,794.8 721.4,794.4C721.9,793.9 723.6,794.4 724.4,794.4C725.1,794.3 726.5,794.0 726.6,793.8C726.8,793.5 725.7,792.9 725.5,792.2C725.3,791.6 725.1,790.1 725.1,789.2C725.1,788.4 725.2,786.6 725.5,785.9C725.8,785.2 726.8,784.4 727.4,784.4C728.0,784.3 729.1,785.1 729.6,785.5C730.1,785.9 730.6,787.0 731.1,787.0C731.6,787.0 732.9,785.4 733.4,785.4C733.9,785.3 734.3,786.8 734.9,786.9C735.5,786.9 736.6,786.1 737.5,785.9C738.4,785.7 740.2,785.5 741.2,785.4C742.3,785.2 744.0,785.0 745.0,784.8C746.0,784.5 747.7,784.1 748.8,783.9C749.8,783.6 751.6,783.1 752.5,783.1C753.4,783.1 755.1,783.6 755.5,783.6C755.9,783.7 755.7,783.3 755.5,783.6C755.3,784.0 754.5,785.4 754.4,786.2C754.2,787.1 754.8,788.8 754.6,789.6C754.4,790.5 753.9,791.5 753.2,792.2C752.6,793.0 751.1,794.1 750.2,794.9C749.4,795.7 748.1,797.1 747.2,797.9C746.4,798.7 745.0,799.9 744.2,800.5C743.5,801.1 742.1,801.8 741.6,802.4C741.1,803.0 740.2,804.1 740.5,804.6C740.8,805.2 743.3,805.8 743.5,806.4C743.7,806.9 742.5,808.1 742.0,808.8C741.5,809.4 740.5,810.4 740.1,811.0C739.7,811.6 738.9,812.9 739.1,813.1C739.4,813.3 741.2,812.9 742.0,812.6C742.8,812.4 744.2,811.8 745.0,811.4C745.8,811.0 747.2,810.2 748.0,809.9C748.8,809.6 750.3,809.2 751.0,809.1C751.7,809.1 752.4,809.3 752.9,809.5C753.4,809.7 754.2,810.3 754.8,810.4C755.3,810.5 756.3,809.9 757.0,809.9C757.7,809.8 759.1,809.8 760.0,809.9C760.9,809.9 762.7,810.1 763.8,810.1C764.8,810.1 766.7,810.2 767.5,810.1C768.3,810.0 769.2,809.3 769.8,809.4C770.3,809.4 771.2,810.2 771.6,810.6C772.1,811.1 772.8,811.8 773.1,812.5C773.5,813.2 774.3,814.7 774.2,815.5C774.2,816.3 773.2,817.3 772.8,818.1C772.3,818.9 771.2,820.3 770.9,821.1C770.5,822.0 770.4,823.2 770.1,824.1C769.9,825.0 769.4,826.5 769.0,827.5C768.6,828.5 767.8,830.9 767.5,831.6C767.2,832.3 767.3,832.0 767.0,832.4C766.7,832.8 765.8,834.1 765.4,834.8C765.0,835.5 764.2,836.9 763.8,837.6C763.4,838.3 763.0,839.4 762.6,840.0C762.2,840.6 761.3,841.6 760.6,842.0C759.9,842.4 758.6,842.8 757.8,843.0C757.0,843.2 755.7,843.2 755.0,843.4C754.3,843.6 753.5,844.3 753.0,844.6C752.5,844.9 751.3,845.5 751.4,845.6C751.5,845.7 752.8,845.5 753.4,845.4C754.0,845.3 755.1,845.2 755.8,845.2C756.5,845.2 757.6,845.2 758.2,845.4C758.8,845.6 759.7,846.1 760.2,846.4C760.7,846.7 761.5,847.0 761.6,847.4C761.7,847.8 761.3,848.6 761.0,849.0C760.7,849.4 760.2,850.2 759.8,850.4C759.4,850.6 758.6,850.6 758.2,850.6C757.8,850.6 757.0,850.3 756.6,850.4C756.2,850.5 755.4,851.2 755.0,851.6C754.6,852.0 753.8,852.8 753.4,853.2C753.0,853.6 752.4,854.2 752.0,854.4C751.6,854.6 750.8,854.8 750.2,854.8C749.6,854.8 748.4,854.5 747.8,854.4C747.2,854.3 746.3,854.0 745.8,853.8C745.3,853.6 744.5,853.1 744.4,853.2C744.3,853.3 744.9,854.1 745.4,854.4C745.9,854.7 747.0,855.3 747.8,855.6C748.6,855.9 750.2,856.4 751.0,856.6C751.8,856.8 753.2,857.1 753.8,857.2C754.4,857.3 755.0,857.7 755.4,857.6C755.8,857.5 756.6,856.7 757.0,856.4C757.4,856.1 758.0,855.6 758.6,855.4C759.2,855.2 760.4,855.1 761.0,855.2C761.6,855.3 762.4,855.7 763.0,856.0C763.6,856.3 764.7,856.9 765.4,857.2C766.1,857.5 767.6,858.1 768.2,858.4C768.8,858.7 769.2,858.8 769.6,859.2C770.0,859.6 770.8,860.8 771.4,861.6C772.0,862.4 773.1,863.8 773.8,864.6C774.5,865.4 775.7,866.2 776.2,867.0C776.7,867.8 777.1,869.0 777.4,870.0C777.7,871.0 778.0,873.0 778.3,874.2C778.6,875.4 778.9,877.2 779.2,878.4C779.5,879.6 779.8,881.4 780.1,882.6C780.4,883.8 781.0,885.7 781.3,886.8C781.6,887.9 782.3,889.9 782.5,890.4M718.4,848.5C718.5,848.2 719.2,846.0 719.2,846.0C719.2,846.0 718.6,847.8 718.5,848.4C718.3,849.0 718.4,849.9 718.3,850.5C718.2,851.1 718.1,852.2 718.0,852.6C717.9,853.0 717.5,853.0 717.4,853.5C717.3,854.0 717.3,855.7 717.3,856.5C717.2,857.3 717.3,858.6 717.3,859.2C717.2,859.8 716.7,860.3 716.8,860.6C716.9,860.8 717.7,860.9 718.0,861.0C718.3,861.1 718.6,861.3 718.6,861.6C718.6,861.9 718.0,862.5 717.7,862.8C717.4,863.1 717.0,863.6 716.8,864.0C716.6,864.4 716.2,865.3 716.1,865.8C715.9,866.3 715.6,867.3 715.5,867.9C715.3,868.5 715.0,870.3 715.0,870.0C715.0,869.7 715.6,865.7 715.6,865.6C715.5,865.5 714.9,868.5 714.8,869.4C714.6,870.2 714.4,871.3 714.5,871.9C714.6,872.4 715.2,873.2 715.6,873.4C715.9,873.7 716.7,873.8 717.1,873.6C717.5,873.5 718.0,873.0 718.2,872.5C718.5,872.0 718.5,870.8 718.7,870.0C718.8,869.2 719.1,867.8 719.3,866.9C719.5,866.0 720.3,863.5 720.2,863.8C720.2,864.0 719.2,868.4 719.2,868.8C719.2,869.2 719.7,867.3 720.0,866.7C720.2,866.1 720.6,865.1 720.7,864.6C720.8,864.1 721.0,863.3 721.0,862.8C721.0,862.3 720.7,861.6 720.7,861.0C720.7,860.4 720.9,859.2 720.9,858.6C720.8,858.0 720.5,856.9 720.4,856.5C720.3,856.1 720.1,855.8 720.3,855.5C720.4,855.1 721.1,854.6 721.6,854.1C722.1,853.6 723.2,852.5 723.7,852.0C724.2,851.5 725.1,850.6 725.5,850.2C725.9,849.8 726.6,849.4 726.7,849.5C726.8,849.5 726.4,850.1 726.1,850.5C725.8,850.9 725.0,851.6 724.6,852.0C724.2,852.4 723.7,853.0 723.4,853.5C723.1,854.0 722.9,855.0 722.8,855.6C722.7,856.2 722.4,857.6 722.5,858.0C722.6,858.4 723.1,858.7 723.4,858.6C723.7,858.5 724.0,857.8 724.3,857.4C724.6,857.0 725.4,856.2 725.8,855.9C726.2,855.6 727.0,855.3 727.3,855.0C727.6,854.7 728.0,853.9 728.2,853.5C728.4,853.1 728.3,852.6 728.5,852.3C728.7,852.0 729.4,851.5 729.6,851.6C729.7,851.6 729.5,852.3 729.4,852.6C729.3,852.9 728.7,853.4 728.7,853.7C728.6,853.9 728.6,854.4 728.8,854.7C729.0,855.0 729.9,855.3 730.3,855.6C730.7,855.9 731.4,856.4 731.8,856.7C732.2,856.9 732.9,857.5 732.9,857.6C732.8,857.6 731.7,857.1 731.2,857.1C730.7,857.1 729.9,857.1 729.6,857.3C729.2,857.4 728.7,857.6 728.5,858.0C728.3,858.4 728.2,859.2 728.1,859.8C727.9,860.4 727.8,861.7 727.8,862.2C727.7,862.7 727.7,863.3 727.9,863.7C728.1,864.1 728.8,864.5 729.1,864.9C729.4,865.3 730.0,866.0 730.3,866.4C730.6,866.8 731.2,867.5 731.4,867.9C731.5,868.3 731.3,868.9 731.2,869.4C731.1,869.9 730.7,870.8 730.5,871.2C730.2,871.6 729.6,873.2 729.7,872.6C729.8,871.9 730.6,867.0 730.9,866.4C731.2,865.8 731.7,867.5 731.7,868.2C731.6,868.9 731.0,870.3 730.6,871.2C730.2,872.1 729.3,873.8 728.8,874.8C728.3,875.8 727.4,877.5 727.0,878.4C726.6,879.3 726.2,880.7 725.8,881.1C725.4,881.5 724.3,881.1 724.0,881.4C723.7,881.7 723.6,882.6 723.7,883.2C723.8,883.8 724.3,884.9 724.6,885.6C724.9,886.3 725.7,887.5 726.1,888.0C726.5,888.5 727.3,889.6 727.6,889.5C727.9,889.4 727.7,887.6 727.9,887.1C728.1,886.6 728.7,885.9 729.1,885.9C729.5,885.9 730.3,886.8 730.9,887.1C731.5,887.4 732.7,888.3 733.3,888.3C733.9,888.3 734.8,887.5 735.4,887.1C736.0,886.7 737.0,885.6 737.5,885.6C738.0,885.6 738.1,887.1 738.7,887.4C739.3,887.7 741.2,887.9 742.0,887.7C742.8,887.5 743.7,886.4 744.4,885.9C745.1,885.4 746.2,884.8 746.8,884.4C747.4,884.0 747.9,883.4 748.6,883.2C749.3,883.0 750.6,883.1 751.6,883.1C752.6,883.1 755.6,883.2 755.8,883.3C756.0,883.4 753.7,883.5 753.1,883.8C752.5,884.1 751.8,884.8 751.3,885.3C750.8,885.8 750.2,886.6 749.8,887.1C749.4,887.6 748.8,888.7 748.6,889.2C748.4,889.7 748.3,890.2 748.3,890.4M721.6,864.0C721.8,863.8 722.5,863.3 722.8,863.4C723.1,863.5 723.7,864.1 724.0,864.6C724.3,865.1 724.6,866.1 724.8,866.7C724.9,867.3 725.2,868.6 725.2,869.1C725.2,869.6 724.9,870.3 724.6,870.5C724.3,870.6 723.5,870.6 723.1,870.5C722.7,870.3 721.9,870.0 721.6,869.7C721.3,869.4 721.2,868.7 721.2,868.2C721.1,867.7 721.0,866.9 721.0,866.4C721.0,865.9 721.1,865.2 721.2,864.9C721.2,864.6 721.4,864.2 721.6,864.0ZM704.2,863.7C704.0,863.5 704.2,861.6 704.4,861.0C704.5,860.4 704.7,859.6 705.1,859.4C705.5,859.1 706.3,859.2 706.9,858.9C707.5,858.6 708.8,857.4 709.3,857.4C709.8,857.4 710.2,858.1 710.4,858.6C710.5,859.1 710.4,859.9 710.5,860.7C710.6,861.5 710.9,863.4 710.8,864.0C710.7,864.6 710.4,864.9 709.9,865.2C709.4,865.5 707.9,866.1 707.5,866.1C707.1,866.1 706.8,865.6 706.8,865.2C706.7,864.8 707.2,863.9 707.2,863.4C707.2,862.9 707.0,861.7 706.8,861.6C706.5,861.5 706.1,862.4 705.7,862.7C705.3,862.9 704.4,863.9 704.2,863.7ZM710.4,858.0C710.6,857.4 711.6,855.6 712.0,855.0C712.4,854.4 713.0,853.8 713.5,853.5C714.0,853.2 715.2,852.6 715.5,852.6C715.7,852.6 715.4,853.0 715.3,853.5C715.2,854.0 714.7,855.5 714.4,856.2C714.1,856.9 713.8,858.0 713.5,858.6C713.2,859.2 712.7,860.4 712.3,860.7C711.9,861.0 711.1,861.2 710.8,861.0C710.5,860.8 710.4,859.6 710.4,859.2C710.3,858.8 710.1,858.6 710.4,858.0ZM707.9,787.1C708.3,787.3 708.7,788.5 708.9,789.2C709.0,790.0 708.9,791.4 708.6,792.2C708.4,793.1 707.6,794.5 707.1,795.2C706.7,796.0 705.8,796.9 705.2,797.4C704.7,797.8 703.4,798.1 703.4,798.4C703.4,798.7 705.1,799.0 705.4,799.4C705.7,799.7 705.7,800.4 705.4,800.9C705.1,801.3 704.0,802.3 703.4,802.8C702.8,803.2 701.8,803.8 701.1,804.4C700.5,805.0 699.5,806.3 698.9,806.9C698.3,807.5 697.5,808.6 697.0,808.6C696.5,808.6 695.4,807.3 695.4,806.9C695.4,806.4 696.5,805.8 697.0,805.4C697.5,804.9 698.6,803.9 698.6,803.5C698.6,803.1 697.4,802.7 697.0,802.4C696.6,802.0 695.6,801.5 695.5,801.1C695.4,800.7 696.2,799.9 696.1,799.4C696.0,798.9 695.2,798.0 695.1,797.5C695.0,797.0 695.1,796.1 695.4,795.6C695.6,795.2 696.2,794.4 696.6,794.4C697.1,794.4 698.0,795.4 698.5,795.6C699.0,795.9 700.1,796.1 700.4,796.0C700.7,795.9 700.9,795.2 700.8,794.9C700.6,794.5 699.7,793.7 699.6,793.4C699.5,793.0 699.5,792.7 700.0,792.2C700.5,791.8 702.2,790.9 703.0,790.4C703.8,789.9 704.9,789.0 705.6,788.5C706.3,788.0 707.4,787.0 707.9,787.1ZM689.1,811.0C689.3,810.5 691.0,810.5 691.8,810.4C692.5,810.3 693.8,810.1 694.4,810.2C694.9,810.4 695.6,811.2 695.6,811.8C695.7,812.3 695.1,813.6 694.8,814.0C694.4,814.4 693.4,814.8 692.9,814.8C692.3,814.7 691.4,814.1 690.9,813.6C690.3,813.1 689.0,811.5 689.1,811.0ZM690.6,818.5C691.0,818.0 692.5,818.0 692.9,818.5C693.3,819.0 693.3,821.3 693.4,822.2C693.5,823.2 693.8,824.7 693.6,825.2C693.4,825.8 692.5,826.0 692.1,826.0C691.7,826.0 690.9,825.8 690.6,825.2C690.4,824.7 690.2,822.8 690.2,821.9C690.2,820.9 690.3,819.0 690.6,818.5ZM688.6,829.4C688.6,829.1 689.2,828.5 689.5,828.5C689.8,828.5 690.5,829.1 690.5,829.4C690.5,829.6 689.8,830.3 689.5,830.3C689.2,830.3 688.6,829.6 688.6,829.4ZM706.8,810.2C707.1,810.2 707.9,810.9 708.2,811.4C708.6,811.9 709.4,813.2 709.6,814.0C709.8,814.8 709.4,816.2 709.4,817.0C709.4,817.8 709.4,819.4 709.6,820.0C709.8,820.6 710.2,820.9 710.9,821.1C711.5,821.3 713.4,821.3 714.2,821.4C715.1,821.4 717.0,821.2 717.2,821.5C717.5,821.8 716.2,823.1 715.8,823.8C715.3,824.4 714.3,825.5 713.9,826.0C713.4,826.5 712.7,827.5 712.4,827.6C712.0,827.8 711.4,827.2 711.2,826.8C711.1,826.3 711.5,824.6 711.1,824.1C710.7,823.7 709.2,823.8 708.6,823.6C708.0,823.4 707.2,823.5 706.8,823.0C706.3,822.5 705.7,820.9 705.2,820.4C704.8,819.9 704.0,819.5 703.4,819.2C702.8,819.0 701.6,818.9 701.1,818.5C700.7,818.1 700.0,817.1 700.0,816.6C700.0,816.2 700.8,815.4 701.1,815.1C701.5,814.8 702.5,814.6 702.6,814.4C702.7,814.1 701.7,813.5 701.9,813.2C702.1,813.0 703.5,812.7 704.1,812.5C704.7,812.3 705.6,811.9 706.0,811.6C706.4,811.3 706.4,810.3 706.8,810.2ZM705.2,828.6C705.4,828.3 706.4,827.4 706.8,827.5C707.1,827.6 707.8,828.6 707.9,829.0C707.9,829.4 707.4,830.3 707.1,830.5C706.8,830.7 706.1,830.4 705.9,830.1C705.6,829.9 705.1,829.0 705.2,828.6ZM701.5,840.6C701.5,840.5 702.6,839.3 703.0,838.9C703.4,838.5 704.3,837.7 704.5,837.6C704.7,837.6 704.5,838.1 704.2,838.5C703.9,838.8 703.1,839.8 702.7,840.1C702.3,840.4 701.5,840.8 701.5,840.6ZM707.5,838.6C708.0,838.2 709.4,837.8 710.1,837.6C710.8,837.4 712.0,837.0 712.4,837.2C712.7,837.5 712.5,838.5 712.8,839.1C713.0,839.7 713.9,840.8 714.2,841.4C714.6,842.0 715.3,842.6 715.4,843.2C715.4,843.9 715.1,845.7 714.6,846.2C714.2,846.8 712.8,847.1 712.0,847.4C711.2,847.7 709.7,848.3 709.0,848.4C708.3,848.4 706.9,847.9 706.8,847.6C706.6,847.3 707.5,846.8 707.9,846.2C708.3,845.7 709.5,844.6 709.6,844.0C709.7,843.4 709.0,842.3 708.6,841.8C708.2,841.2 706.9,840.7 706.8,840.2C706.6,839.8 707.0,839.0 707.5,838.6ZM669.6,890.5C670.0,890.1 671.9,888.3 672.8,887.6C673.6,886.9 674.9,886.3 675.5,885.8C676.0,885.3 676.6,884.7 676.6,884.2C676.6,883.8 675.5,883.0 675.5,882.4C675.4,881.9 675.9,881.0 676.1,880.4C676.4,879.8 676.8,878.6 677.3,878.2C677.7,877.7 678.8,877.5 679.5,877.3C680.2,877.0 681.4,876.7 682.2,876.6C683.0,876.4 684.5,876.1 684.9,876.1C685.3,876.2 684.9,877.2 685.0,877.1C685.1,877.0 685.2,876.0 685.4,875.7C685.6,875.4 686.1,875.1 686.4,875.2C686.7,875.2 687.5,875.8 687.8,876.2C688.1,876.6 688.6,877.3 688.8,877.8C689.0,878.3 689.4,879.3 689.5,879.8C689.6,880.3 689.8,881.1 689.8,881.3M689.8,881.3C689.7,881.3 689.1,881.6 688.8,881.6C688.5,881.7 687.9,881.6 687.7,881.4C687.5,881.3 687.3,880.7 687.3,880.4C687.3,880.1 687.8,879.5 687.8,879.3M689.8,881.3C689.7,881.0 689.5,879.7 689.4,879.2C689.3,878.7 689.0,877.8 689.0,877.4C688.9,877.0 688.9,876.4 688.9,876.0C688.9,875.6 689.1,874.9 689.3,874.7C689.5,874.5 690.1,874.3 690.4,874.2C690.7,874.1 691.4,874.1 691.6,874.0C691.8,873.9 692.0,873.4 692.0,873.2C691.9,873.0 691.4,872.8 691.4,872.6C691.5,872.5 691.9,872.3 692.1,872.3C692.3,872.3 692.8,872.4 693.1,872.6C693.4,872.7 694.0,873.3 694.4,873.6C694.8,873.9 695.5,874.3 695.8,874.6C696.1,874.9 696.6,875.3 696.8,875.6C696.9,875.9 697.1,876.4 697.0,876.6C696.9,876.8 696.3,876.9 696.0,877.0C695.7,877.2 695.1,877.6 694.8,877.8C694.5,878.1 693.9,878.5 693.6,878.8C693.3,879.1 692.7,879.5 692.4,879.8C692.1,880.1 691.5,880.5 691.2,880.8C690.9,881.1 690.2,881.6 690.2,881.6C690.2,881.7 691.1,881.3 691.5,881.1C691.9,880.9 692.4,880.4 692.8,880.2C693.1,880.1 693.7,880.2 694.0,880.2C694.3,880.3 694.9,880.6 695.2,880.5C695.5,880.4 696.0,880.1 696.2,879.8C696.4,879.5 696.5,879.0 696.6,878.6C696.8,878.2 696.8,877.3 697.0,877.1C697.2,876.9 697.6,877.4 698.0,877.4C698.4,877.4 699.1,877.5 699.6,877.4C700.1,877.3 701.0,877.1 701.6,876.8C702.2,876.5 703.4,875.8 704.0,875.6C704.6,875.4 705.4,875.2 706.1,875.2C706.7,875.3 707.7,875.7 708.3,875.9C708.9,876.1 709.7,876.2 710.1,876.6C710.5,876.9 711.0,877.8 711.2,878.4C711.5,879.0 711.7,880.2 711.9,880.9C712.1,881.5 712.5,882.5 712.8,883.1C713.1,883.7 713.8,884.4 714.2,884.9C714.5,885.4 715.3,886.2 715.5,886.7C715.7,887.2 715.9,887.9 715.7,888.3C715.6,888.7 715.0,889.1 714.6,889.4C714.2,889.7 713.1,890.4 712.8,890.5M690.0,881.6C690.1,881.8 690.4,882.7 690.4,883.2C690.4,883.7 690.0,884.5 689.8,885.0C689.6,885.5 689.1,886.3 689.0,886.6C688.9,886.9 689.1,886.9 689.0,887.2C688.8,887.4 688.1,888.1 687.6,888.3C687.1,888.5 685.9,888.4 685.4,888.5C684.8,888.6 684.0,888.7 683.6,889.0C683.1,889.2 682.4,890.3 682.2,890.5M921.6,635.2C921.1,635.3 918.8,635.5 918.0,635.8C917.2,636.1 916.2,636.9 916.2,637.3C916.2,637.7 916.9,638.5 917.7,638.8C918.5,639.1 921.1,639.6 921.6,639.7M921.6,647.7C921.0,647.5 918.3,646.7 917.4,646.6C916.5,646.5 915.6,646.6 915.0,646.7C914.4,646.8 913.5,647.1 912.9,647.5C912.3,647.9 911.5,648.9 910.8,649.3C910.1,649.7 908.6,650.2 907.8,650.5C907.0,650.8 905.4,651.1 904.8,651.4C904.2,651.7 903.9,652.3 903.6,652.9C903.3,653.5 902.7,654.9 902.4,655.6C902.1,656.3 901.5,657.2 901.2,657.7C900.9,658.2 900.3,659.1 900.3,659.5C900.3,659.9 900.9,660.4 901.5,660.4C902.1,660.4 904.0,659.8 904.8,659.5C905.6,659.2 906.4,658.4 906.9,658.3C907.4,658.2 908.2,658.4 908.7,658.6C909.2,658.8 909.7,659.6 910.2,659.7C910.7,659.8 911.9,659.7 912.6,659.5C913.3,659.3 914.2,658.8 915.0,658.6C915.8,658.4 917.1,658.1 918.0,657.9C918.9,657.7 921.1,657.4 921.6,657.3M921.6,659.5C921.1,659.5 918.8,659.2 918.0,659.2C917.2,659.2 916.3,659.5 915.6,659.7C914.9,659.9 913.7,660.4 913.2,660.7C912.7,661.0 912.3,661.6 912.3,661.9C912.3,662.2 912.6,662.8 912.9,663.1C913.2,663.4 914.6,663.7 914.7,664.0C914.8,664.3 914.2,665.0 913.8,665.2C913.4,665.4 912.5,665.8 912.0,665.7C911.5,665.6 910.7,664.9 910.2,664.6C909.7,664.3 909.1,663.7 908.4,663.4C907.7,663.1 906.2,662.8 905.4,662.7C904.6,662.5 903.2,662.3 902.4,662.2C901.6,662.1 900.2,662.2 899.4,662.3C898.6,662.4 897.2,662.6 896.4,662.8C895.6,663.0 894.4,663.1 894.0,663.4C893.6,663.7 893.5,664.4 893.3,664.9C893.1,665.4 892.8,666.3 892.5,666.7C892.2,667.1 891.4,667.6 891.3,667.9C891.2,668.2 891.2,668.9 891.6,669.1C892.0,669.3 893.2,669.4 894.0,669.4C894.8,669.4 896.2,669.0 897.0,668.8C897.8,668.6 899.5,668.1 899.7,668.2C899.9,668.3 898.7,669.4 898.2,669.7C897.7,670.0 896.5,670.4 895.8,670.6C895.1,670.8 894.1,671.2 893.4,671.3C892.7,671.4 891.5,671.6 891.0,671.5C890.5,671.4 890.1,670.6 889.8,670.3C889.5,670.0 889.0,669.3 888.6,669.3C888.2,669.2 887.3,669.8 886.8,670.0C886.3,670.2 885.5,670.3 885.0,670.6C884.5,670.9 883.6,671.7 883.2,672.1C882.8,672.5 882.6,673.1 882.3,673.6C882.0,674.1 881.7,675.1 881.4,675.7C881.1,676.3 880.3,677.7 879.9,677.8C879.5,677.9 878.9,676.3 878.4,676.3C877.9,676.3 876.9,677.3 876.6,677.8C876.3,678.3 876.3,679.6 876.3,680.2C876.3,680.8 876.1,681.7 876.3,682.3C876.5,682.8 877.2,683.9 877.8,684.2C878.4,684.5 880.0,684.3 880.8,684.3C881.6,684.4 883.0,684.3 883.8,684.5C884.6,684.7 885.9,685.1 886.8,685.4C887.7,685.7 889.4,686.4 890.4,686.6C891.4,686.8 893.0,686.9 894.0,686.9C895.0,686.9 896.7,686.4 897.6,686.3C898.5,686.2 900.3,685.8 900.6,686.0C900.9,686.2 899.9,687.1 899.4,687.5C898.9,687.9 897.8,688.4 897.0,688.7C896.2,689.0 894.4,689.2 893.4,689.3C892.4,689.4 890.7,689.6 889.8,689.5C888.9,689.4 887.6,688.8 886.8,688.4C886.0,688.0 884.6,687.2 883.8,686.9C883.0,686.6 881.6,686.1 880.8,686.0C880.0,685.9 878.6,685.9 877.8,685.9C877.0,685.9 875.9,686.1 875.4,686.0C874.9,685.9 874.5,685.3 874.2,685.4C873.9,685.5 873.4,686.2 873.3,686.9C873.2,687.6 873.2,689.4 873.3,690.2C873.4,691.0 873.6,692.1 873.9,692.6C874.2,693.1 874.7,693.8 875.1,694.1C875.5,694.4 876.3,694.3 876.6,694.7C876.9,695.1 877.1,696.6 877.5,697.1C877.9,697.6 879.3,698.0 879.6,698.3C879.9,698.6 879.7,699.3 879.3,699.5C878.9,699.7 877.5,699.5 876.9,699.7C876.3,699.8 875.1,700.2 874.8,700.7C874.5,701.2 874.6,702.6 874.7,703.4C874.8,704.2 875.0,705.4 875.4,706.1C875.8,706.8 876.6,707.7 877.2,708.2C877.8,708.7 879.0,709.7 879.6,710.0C880.2,710.3 880.9,710.4 881.4,710.3C881.9,710.2 882.7,709.4 883.5,709.1C884.3,708.8 885.8,708.5 886.8,708.4C887.8,708.3 890.0,708.1 891.0,708.2C892.0,708.3 893.2,708.7 894.0,708.8C894.8,708.9 895.9,709.5 896.4,709.2C896.9,709.0 897.0,707.7 897.3,707.0C897.6,706.3 898.2,704.5 898.5,704.3C898.8,704.1 899.4,705.1 899.4,705.5C899.4,705.9 898.2,706.7 898.5,707.0C898.8,707.3 900.5,707.4 901.2,707.6C901.9,707.8 902.9,708.1 903.6,708.2C904.3,708.3 905.3,708.2 906.0,708.2C906.7,708.2 908.1,708.3 908.4,707.9C908.7,707.5 908.3,706.0 908.4,705.2C908.5,704.4 908.9,702.9 909.3,702.2C909.7,701.5 910.9,700.3 911.1,700.4C911.3,700.5 910.7,702.1 910.5,702.8C910.3,703.5 909.8,704.7 909.9,705.2C910.0,705.7 910.9,706.0 911.4,706.3C911.9,706.6 913.8,706.9 913.8,707.3C913.8,707.7 912.4,708.5 911.7,708.8C911.0,709.1 909.8,709.5 909.0,709.7C908.2,709.9 906.8,710.0 906.3,710.3C905.8,710.6 905.5,711.2 905.4,711.8C905.3,712.4 905.8,714.4 905.7,714.8C905.6,715.2 904.8,714.9 904.5,714.5C904.2,714.1 904.0,712.5 903.6,711.8C903.2,711.1 902.4,710.0 901.8,709.7C901.2,709.4 900.0,709.3 899.4,709.4C898.8,709.5 897.9,710.0 897.3,710.3C896.7,710.6 895.8,711.4 895.2,711.5C894.6,711.6 893.6,711.4 892.8,711.2C892.0,711.0 890.6,710.4 889.8,710.3C889.0,710.2 887.6,710.4 886.8,710.6C886.0,710.8 884.6,711.5 883.8,711.8C883.0,712.1 881.6,712.4 880.8,712.5C880.0,712.6 878.7,712.6 878.1,712.4C877.5,712.2 876.7,711.3 876.3,711.3C875.9,711.4 875.3,712.1 875.1,712.7C874.9,713.3 875.1,714.5 875.1,715.4C875.1,716.3 875.0,718.0 875.1,719.0C875.2,720.0 875.6,721.9 875.7,722.6C875.8,723.3 875.7,723.6 876.0,724.0C876.3,724.4 877.1,725.4 877.6,725.8C878.1,726.2 878.9,726.6 879.4,726.6C879.9,726.6 880.7,725.9 881.2,725.6C881.7,725.3 882.4,724.5 882.8,724.2C883.2,723.9 884.3,723.3 884.4,723.4C884.5,723.5 883.6,724.4 883.2,724.8C882.8,725.2 881.8,726.0 881.2,726.4C880.6,726.8 879.3,727.6 878.8,728.0C878.3,728.4 877.6,729.0 877.4,729.6C877.2,730.2 877.5,731.3 877.6,732.0C877.7,732.7 877.8,734.1 878.0,734.8C878.2,735.5 878.6,736.4 879.0,737.0C879.4,737.6 880.3,738.5 880.8,738.8C881.3,739.1 882.3,739.3 882.8,739.4C883.3,739.5 884.1,739.1 884.4,739.2C884.7,739.3 885.1,739.9 885.0,740.2C884.9,740.5 884.1,741.0 883.6,741.2C883.1,741.4 882.2,741.6 881.6,741.6C881.0,741.6 880.1,741.5 879.6,741.4C879.1,741.3 878.1,741.1 877.8,741.2C877.5,741.3 877.3,742.0 877.4,742.4C877.5,742.8 878.2,743.3 878.2,743.8C878.2,744.3 877.8,745.4 877.6,746.0C877.4,746.6 876.8,747.7 876.6,748.4C876.4,749.1 876.4,750.1 876.4,750.8C876.4,751.5 876.5,752.7 876.6,753.2C876.7,753.7 877.1,754.3 877.4,754.2C877.7,754.1 878.0,752.9 878.4,752.4C878.8,751.9 879.5,751.1 880.0,750.6C880.5,750.1 881.6,749.4 882.0,748.8C882.4,748.2 882.7,747.2 883.0,746.6C883.3,746.0 883.8,745.0 884.2,744.6C884.6,744.2 885.2,743.7 885.6,743.4C886.0,743.1 886.9,742.8 887.2,742.4C887.5,742.0 887.8,741.4 888.0,740.8C888.2,740.2 888.2,739.0 888.4,738.4C888.6,737.8 889.2,737.0 889.6,736.4C890.0,735.8 890.6,734.7 891.2,734.0C891.8,733.3 892.9,732.1 893.6,731.6C894.3,731.1 895.3,730.5 896.0,730.2C896.7,729.9 898.0,729.5 898.8,729.2C899.6,728.9 901.2,728.5 902.0,728.4C902.8,728.3 904.4,728.4 904.6,728.6C904.8,728.8 903.7,729.3 903.2,729.6C902.7,729.9 901.7,730.2 901.2,730.6C900.7,731.0 899.9,731.8 899.6,732.4C899.3,733.0 899.1,734.2 898.8,735.2C898.5,736.2 898.0,738.8 897.8,739.2C897.6,739.6 897.2,738.6 897.2,738.0C897.2,737.4 897.5,735.9 897.6,735.2C897.7,734.5 898.3,733.2 898.2,732.8C898.1,732.4 897.3,731.9 896.8,732.0C896.3,732.1 895.4,733.1 894.8,733.6C894.2,734.1 893.2,735.1 892.8,735.6C892.4,736.1 891.9,736.6 891.8,737.2C891.7,737.8 891.9,739.0 891.8,739.6C891.7,740.2 891.2,741.2 890.8,741.8C890.4,742.4 889.6,743.3 889.2,743.8C888.8,744.3 888.0,745.0 887.6,745.4C887.2,745.8 886.3,746.4 886.0,746.8C885.7,747.2 885.3,747.8 885.4,748.2C885.5,748.6 886.0,749.2 886.4,749.4C886.8,749.6 887.8,749.7 888.4,749.6C889.0,749.5 890.2,749.1 890.8,749.0C891.4,748.9 892.9,748.7 893.0,748.8C893.1,748.9 892.2,749.6 891.8,750.0C891.4,750.4 890.3,751.2 889.8,751.4C889.3,751.6 888.4,751.4 888.0,751.6C887.6,751.8 887.4,752.5 887.2,752.8C887.0,753.1 886.8,753.5 886.4,753.6C886.0,753.7 884.9,753.6 884.4,753.4C883.9,753.2 883.0,752.1 882.6,752.0C882.2,751.9 881.8,752.1 881.4,752.4C881.0,752.7 880.4,753.6 880.0,754.0C879.6,754.4 878.9,754.9 878.6,755.4C878.3,755.9 878.0,757.2 877.8,757.6C877.6,758.0 877.6,757.4 877.4,758.0C877.2,758.6 876.7,760.9 876.6,762.0C876.5,763.1 876.3,765.1 876.4,766.0C876.6,766.9 877.2,768.0 877.8,768.2C878.4,768.5 879.9,768.0 880.6,767.6C881.3,767.2 881.9,765.8 882.6,765.2C883.3,764.6 884.6,763.7 885.4,763.2C886.2,762.7 887.7,762.2 888.6,761.6C889.5,761.0 890.8,759.9 891.8,759.2C892.8,758.5 895.6,756.8 895.8,756.8C896.0,756.8 894.1,758.5 893.4,759.2C892.7,759.9 891.6,761.0 891.0,761.6C890.4,762.2 889.2,762.9 889.0,763.6C888.8,764.3 889.5,765.9 889.4,766.8C889.3,767.7 888.2,769.2 888.2,770.0C888.2,770.8 888.8,771.9 889.4,772.4C890.0,772.9 891.5,773.8 892.2,773.8C892.9,773.8 894.4,772.3 894.6,772.4C894.8,772.5 893.8,774.2 893.4,774.8C893.0,775.4 892.1,776.4 891.4,776.4C890.7,776.4 889.4,775.3 888.6,774.8C887.8,774.3 886.5,773.1 885.8,772.8C885.1,772.5 884.2,772.2 883.8,772.4C883.4,772.6 882.8,773.6 882.6,774.4C882.4,775.2 882.2,776.9 882.2,778.0C882.2,779.1 882.3,781.0 882.6,782.0C882.9,783.0 883.6,784.4 884.2,785.2C884.8,786.0 886.2,787.2 887.0,788.0C887.8,788.8 889.2,790.1 890.2,790.8C891.2,791.5 892.8,792.8 893.8,793.2C894.8,793.6 896.6,793.8 897.4,794.0C898.2,794.2 899.2,794.1 899.4,794.4C899.6,794.7 899.0,795.8 898.8,796.4C898.7,797.0 898.4,798.1 898.6,798.4C898.8,798.7 900.2,799.0 900.6,798.8C901.0,798.6 901.1,797.0 901.4,796.8C901.7,796.6 902.7,797.2 903.0,797.6C903.3,798.0 903.0,799.6 903.4,800.0C903.8,800.4 905.2,800.7 906.2,800.8C907.2,800.9 909.1,800.7 910.2,800.6C911.3,800.4 913.2,799.9 914.2,799.6C915.2,799.3 916.4,798.8 917.4,798.4C918.4,798.0 920.8,796.8 921.4,796.6M872.4,707.6C872.7,707.2 873.3,707.1 873.6,707.3C873.9,707.5 874.5,708.6 874.5,709.1C874.5,709.6 874.3,710.9 873.9,711.2C873.5,711.5 872.1,711.7 871.8,711.5C871.5,711.3 871.4,710.5 871.5,710.0C871.6,709.5 872.1,708.0 872.4,707.6ZM874.4,730.2C874.7,730.1 875.2,730.9 875.4,731.4C875.6,731.9 875.7,733.0 875.8,733.6C875.9,734.2 876.2,735.4 876.2,736.0C876.2,736.6 876.2,737.9 876.0,738.2C875.8,738.5 875.3,738.5 875.0,738.4C874.7,738.3 874.2,737.7 874.0,737.2C873.8,736.7 873.7,735.5 873.6,734.8C873.5,734.1 873.3,732.6 873.4,732.0C873.5,731.4 874.1,730.3 874.4,730.2Z"/>
<g stroke="#000" fill="none" stroke-linecap="butt" stroke-linejoin="miter">
<path d="M500.6,618.3L504.5,606.9L514.5,606.9L518.4,618.3" stroke-width="1.5"/>
<path d="M501.7,600.2L504.5,606.6M509.5,600.2L509.5,606.8M517.0,600.2L514.4,606.6" stroke-width="1.9"/>
<path d="M500.2,618.5L507,618.5M512,618.5L518.7,618.5" stroke-width="2.5"/>
</g>
</g>
<rect x="310.5" y="321.5" width="610.0" height="569.0" fill="none" stroke="#000" stroke-width="1.1"/>
<g font-size="19.44" letter-spacing="-0.4">
<g text-anchor="middle">
<text x="355.0" y="312.3">30°W</text>
<text x="355.0" y="910">30°W</text>
<text x="502.7" y="312.3">20°W</text>
<text x="502.7" y="910">20°W</text>
<text x="651.5" y="312.3">10°W</text>
<text x="651.5" y="910">10°W</text>
<text x="800.0" y="312.3">0°</text>
<text x="800.0" y="910">0°</text>
</g>
<g text-anchor="end">
<text x="303.2" y="394.0">70°N</text>
<text x="303.4" y="495.8" letter-spacing="-0.1">67.5°N</text>
<text x="303.2" y="588.0">65°N</text>
<text x="303.4" y="671.7" letter-spacing="-0.1">62.5°N</text>
<text x="303.2" y="749.0">60°N</text>
<text x="303.4" y="820.9" letter-spacing="-0.1">57.5°N</text>
<text x="303.2" y="887.8">55°N</text>
</g>
<g text-anchor="start">
<text x="925.6" y="394.0">70°N</text>
<text x="925.6" y="495.8" letter-spacing="-0.1">67.5°N</text>
<text x="925.6" y="588.0">65°N</text>
<text x="925.6" y="671.7" letter-spacing="-0.1">62.5°N</text>
<text x="925.6" y="749.0">60°N</text>
<text x="925.6" y="820.9" letter-spacing="-0.1">57.5°N</text>
<text x="925.6" y="887.8">55°N</text>
</g>
</g>
<text x="60.0" y="975" font-size="13.89" letter-spacing="0.03">© Met Office Crown Copyright</text>
</svg>
</body></html>
